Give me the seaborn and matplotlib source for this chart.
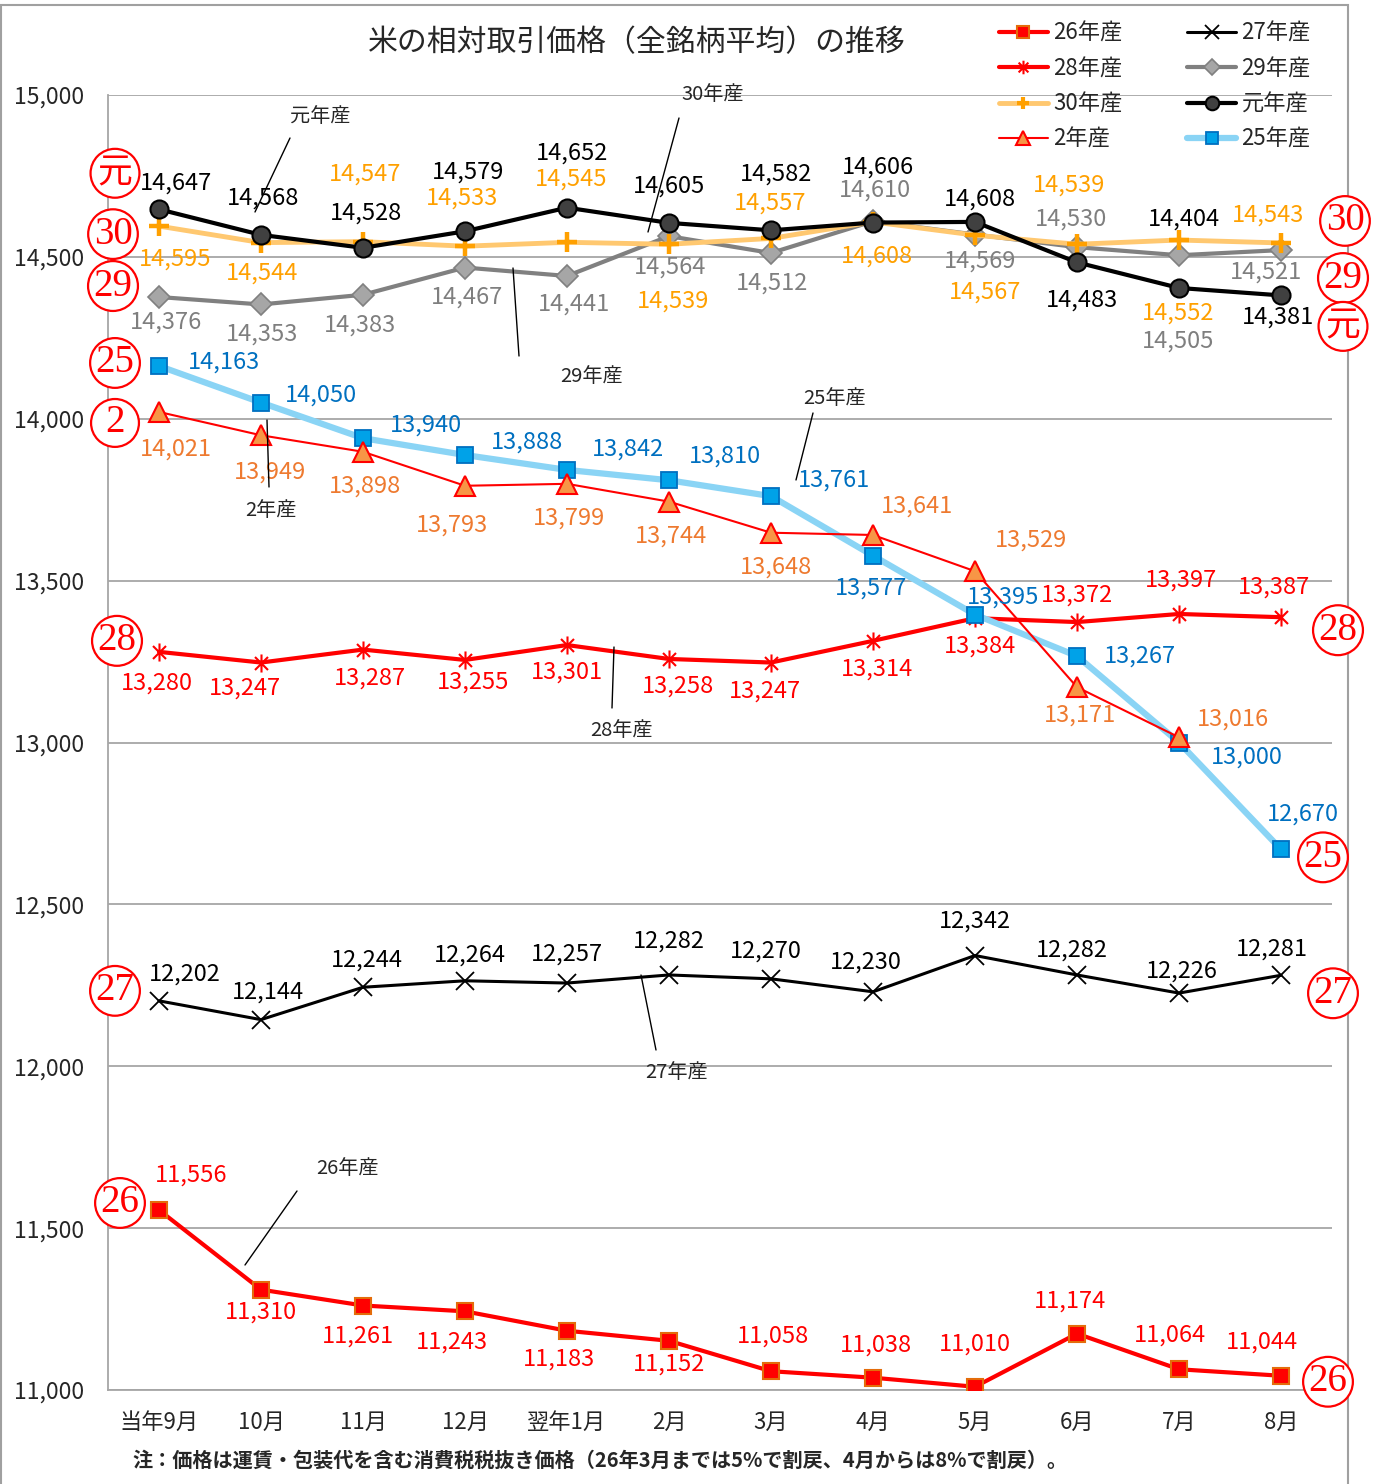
import numpy as np
import pandas as pd
import seaborn as sns
import matplotlib.pyplot as plt
from matplotlib.lines import Line2D
from matplotlib.patches import Rectangle
from matplotlib.path import Path
from matplotlib.ticker import FuncFormatter

# ── Data ──────────────────────────────────────────────────────────────────────
MONTHS = ["当年9月", "10月", "11月", "12月", "翌年1月", "2月",
          "3月", "4月", "5月", "6月", "7月", "8月"]
SERIES = ["26年産", "27年産", "28年産", "29年産", "30年産", "元年産", "2年産", "25年産"]

P26 = [11556, 11310, 11261, 11243, 11183, 11152, 11058, 11038, 11010, 11174, 11064, 11044]
P27 = [12202, 12144, 12244, 12264, 12257, 12282, 12270, 12230, 12342, 12282, 12226, 12281]
P28 = [13280, 13247, 13287, 13255, 13301, 13258, 13247, 13314, 13384, 13372, 13397, 13387]
P29 = [14376, 14353, 14383, 14467, 14441, 14564, 14512, 14610, 14569, 14530, 14505, 14521]
P30 = [14595, 14544, 14547, 14533, 14545, 14539, 14557, 14608, 14567, 14539, 14552, 14543]
P_GAN = [14647, 14568, 14528, 14579, 14652, 14605, 14582, 14606, 14608, 14483, 14404, 14381]
P02 = [14021, 13949, 13898, 13793, 13799, 13744, 13648, 13641, 13529, 13171, 13016]
P25 = [14163, 14050, 13940, 13888, 13842, 13810, 13761, 13577, 13395, 13267, 13000, 12670]

VALUES = dict(zip(SERIES, [P26, P27, P28, P29, P30, P_GAN, P02, P25]))

TITLE = "米の相対取引価格（全銘柄平均）の推移"
NOTE = "注：価格は運賃・包装代を含む消費税税抜き価格（26年3月までは5%で割戻、4月からは8%で割戻）。"

# ── Style ─────────────────────────────────────────────────────────────────────
W, H = 1379, 1484
GRID = "#A6A6A6"

# asterisk-like marker (X + vertical bar) for 28年産
STAR = Path([(0, -1), (0, 1), (-0.72, -0.72), (0.72, 0.72), (-0.72, 0.72), (0.72, -0.72)],
            [Path.MOVETO, Path.LINETO] * 3)

STYLE = {
    "26年産": dict(color="#FF0000", lw=3, marker="s", ms=11, mfc="#FF0000", mec="#E46C0A", mew=1.5, z=3, txt="#FF0000"),
    "27年産": dict(color="#000000", lw=2.2, marker="x", ms=13, mfc="none", mec="#000000", mew=1.3, z=3, txt="#000000"),
    "28年産": dict(color="#FF0000", lw=3, marker=STAR, ms=13, mfc="none", mec="#FF0000", mew=1.5, z=3, txt="#FF0000"),
    "29年産": dict(color="#808080", lw=3, marker="D", ms=11, mfc="#A6A6A6", mec="#808080", mew=1.2, z=3, txt="#7F7F7F"),
    "30年産": dict(color="#FFC870", lw=3.5, marker="P", ms=0.1, mfc="#FFA000", mec="#FFA000", mew=0, z=3.2, txt="#FFA000"),
    "元年産": dict(color="#000000", lw=3, marker="o", ms=13, mfc="#404040", mec="#000000", mew=1.5, z=3.4, txt="#000000"),
    "2年産": dict(color="#FF0000", lw=1.5, marker="^", ms=14, mfc="#F79646", mec="#FF0000", mew=1.5, z=3.6, txt="#EE7A30"),
    "25年産": dict(color="#8AD4F5", lw=4.5, marker="s", ms=12, mfc="#00A2E8", mec="#0070C0", mew=1.3, z=3.5, txt="#0070C0"),
}

# data label offsets in pixels (dx right, dy down)
OFFSETS = {
    "26年産": [(32, -35), (0, 22), (-5, 31), (-13, 31), (-8, 28), (0, 23), (2, -35), (3, -33), (0, -43), (-7, -33), (-9, -34), (-19, -34)],
    "27年産": [(26, -27), (7, -28), (4, -27), (5, -26), (0, -29), (0, -34), (-5, -28), (-7, -30), (0, -34), (-5, -25), (3, -22), (-9, -26)],
    "28年産": [(-2, 31), (-16, 26), (7, 29), (8, 22), (0, 27), (9, 27), (-6, 29), (4, 28), (5, 28), (0, -27), (2, -34), (-7, -30)],
    "29年産": [(7, 25), (1, 30), (-3, 30), (2, 30), (7, 28), (1, 31), (1, 30), (2, -31), (5, 27), (-6, -28), (-1, 86), (-15, 22)],
    "30年産": [(16, 33), (1, 30), (2, -68), (-3, -48), (4, -63), (4, 57), (-1, -35), (4, 34), (10, 57), (-8, -59), (-1, 73), (-13, -28)],
    "元年産": [(17, -26), (2, -37), (3, -35), (3, -59), (5, -55), (0, -37), (5, -56), (5, -55), (5, -23), (5, 38), (5, -69), (-3, 22)],
    "2年産": [(17, 37), (9, 37), (2, 34), (-13, 39), (2, 34), (2, 34), (5, 34), (44, -29), (56, -31), (3, 28), (54, -18)],
    "25年産": [(65, -4), (60, -7), (63, -13), (62, -13), (61, -21), (56, -24), (63, -16), (-2, 32), (28, -18), (63, 0), (68, 15), (22, -35)],
}

# circled year tags next to first / last point (text, dx, dy)
LEFT_TAGS = {
    "元年産": ("元", -44, -36), "30年産": ("30", -46, 8), "29年産": ("29", -46, -11),
    "25年産": ("25", -44, -3), "2年産": ("2", -44, 11), "28年産": ("28", -42, -11),
    "27年産": ("27", -44, -10), "26年産": ("26", -39, -7),
}
RIGHT_TAGS = {
    "30年産": ("30", 64, -22), "29年産": ("29", 62, 28), "元年産": ("元", 62, 31),
    "28年産": ("28", 57, 13), "25年産": ("25", 42, 8), "27年産": ("27", 52, 18),
    "26年産": ("26", 47, 6),
}

# leader-line callouts in image pixels: text, text pos, line start, line end
CALLOUTS = [
    ("元年産", (320, 117), (290, 138), (255, 212)),
    ("30年産", (713, 95), (679, 118), (648, 232)),
    ("29年産", (592, 376), (513, 268), (519, 356)),
    ("25年産", (835, 399), (813, 413), (796, 480)),
    ("2年産", (271, 511), (267, 420), (269, 487)),
    ("28年産", (621, 730), (614, 647), (612, 708)),
    ("27年産", (677, 1072), (641, 975), (656, 1050)),
    ("26年産", (347, 1168), (297, 1191), (245, 1265)),
]


def fx(px):
    return px / W


def fy(py):
    return 1 - py / H


# ── Figure ────────────────────────────────────────────────────────────────────
sns.set_style("white")
plt.rcParams["font.family"] = ["Noto Sans CJK JP", "DejaVu Sans"]

rows = [{"series": s, "month": i, "price": v} for s in SERIES for i, v in enumerate(VALUES[s])]
df = pd.DataFrame(rows)

fig = plt.figure(figsize=(W / 100, H / 100), dpi=100)
ax = fig.add_axes([fx(108), fy(1390), fx(1332) - fx(108), fy(95) - fy(1390)])

for name in SERIES:
    st = STYLE[name]
    sub = df[df["series"] == name]
    sns.lineplot(data=sub, x="month", y="price", ax=ax, label=name, color=st["color"],
                 lw=st["lw"], marker=st["marker"], ms=st["ms"], mfc=st["mfc"],
                 mec=st["mec"], mew=st["mew"], zorder=st["z"], errorbar=None)
    if name == "30年産":
        # plus markers drawn separately so they keep their own colour
        sns.lineplot(data=sub, x="month", y="price", ax=ax, lw=0, marker="+", ms=15,
                     mec="#FFA000", mew=3.2, zorder=st["z"] + 0.05, errorbar=None)

# data labels
for name in SERIES:
    st = STYLE[name]
    for i, (v, (dx, dy)) in enumerate(zip(VALUES[name], OFFSETS[name])):
        ax.annotate(f"{v:,}", (i, v), xytext=(dx, -dy), textcoords="offset pixels",
                    ha="center", va="center", fontsize=17, color=st["txt"], zorder=6)


def tag(txt, x, y, dx, dy):
    if txt == "元":
        fam, size, pad = ["Noto Sans CJK JP"], 25, 0.2
    else:
        fam, size, pad = ["Liberation Serif"], 28, 0.14
    ax.annotate(txt, (x, y), xytext=(dx, -dy), textcoords="offset pixels",
                ha="center", va="center", fontsize=size, color="#FF0000", family=fam,
                zorder=7, annotation_clip=False,
                bbox=dict(boxstyle=f"circle,pad={pad}", fc="white", ec="#FF0000", lw=1.6))


for name, (txt, dx, dy) in LEFT_TAGS.items():
    tag(txt, 0, VALUES[name][0], dx, dy)
for name, (txt, dx, dy) in RIGHT_TAGS.items():
    n = len(VALUES[name]) - 1
    tag(txt, n, VALUES[name][n], dx, dy)

# ── Axes styling ──────────────────────────────────────────────────────────────
ax.set_xlim(-0.5, 11.5)
ax.set_ylim(11000, 15000)
ax.set_yticks(np.arange(11000, 15001, 500))
ax.yaxis.set_major_formatter(FuncFormatter(lambda v, _: f"{int(v):,}"))
ax.set_xticks(range(len(MONTHS)))
ax.set_xticklabels(MONTHS)
ax.set_xticks(np.arange(-0.5, 12, 1), minor=True)
ax.set_xlabel("")
ax.set_ylabel("")

ax.yaxis.grid(True, color=GRID, lw=1.3)
ax.set_axisbelow(True)
for side in ["top", "right"]:
    ax.spines[side].set_visible(False)
for side in ["left", "bottom"]:
    ax.spines[side].set_color(GRID)
    ax.spines[side].set_linewidth(1.3)

ax.tick_params(axis="y", length=9, color=GRID, width=1.3, pad=8, labelsize=16.5)
ax.tick_params(axis="x", which="major", length=0, pad=15, labelsize=16)
ax.tick_params(axis="x", which="minor", length=9, color=GRID, width=1.3)

# legend (two columns, row order as in the original)
handles, labels = ax.get_legend_handles_labels()
lookup = dict(zip(labels, handles))
order = ["26年産", "28年産", "30年産", "2年産", "27年産", "29年産", "元年産", "25年産"]
leg_handles = []
for name in order:
    st = STYLE[name]
    if name == "30年産":
        h = Line2D([], [], color=st["color"], lw=st["lw"], marker="+", ms=11,
                   mec="#FFA000", mew=3)
    else:
        h = lookup[name]
    leg_handles.append(h)
ax.legend(leg_handles, order, ncol=2, loc="upper left",
          bbox_to_anchor=(fx(979), fy(2)), bbox_transform=fig.transFigure,
          frameon=False, fontsize=16, handlelength=2.2, handletextpad=0.25,
          columnspacing=2.9, labelspacing=0.55, markerscale=0.75)

# ── Texts and callouts ────────────────────────────────────────────────────────
fig.text(fx(637), fy(43), TITLE, ha="center", va="center", fontsize=21.5)
fig.text(fx(600), fy(1460), NOTE, ha="center", va="center", fontsize=14.5, fontweight="bold")

for txt, (tx, ty), (x0, y0), (x1, y1) in CALLOUTS:
    fig.text(fx(tx), fy(ty), txt, ha="center", va="center", fontsize=14.5, zorder=8)
    fig.add_artist(Line2D([fx(x0), fx(x1)], [fy(y0), fy(y1)], color="black", lw=1, zorder=8))

fig.add_artist(Rectangle((fx(1), -0.01), fx(1348) - fx(1), fy(5) + 0.01, fill=False,
                         ec="#A0A0A0", lw=1.5, transform=fig.transFigure, zorder=-1))

plt.savefig("out.png", dpi=100)
plt.close()
